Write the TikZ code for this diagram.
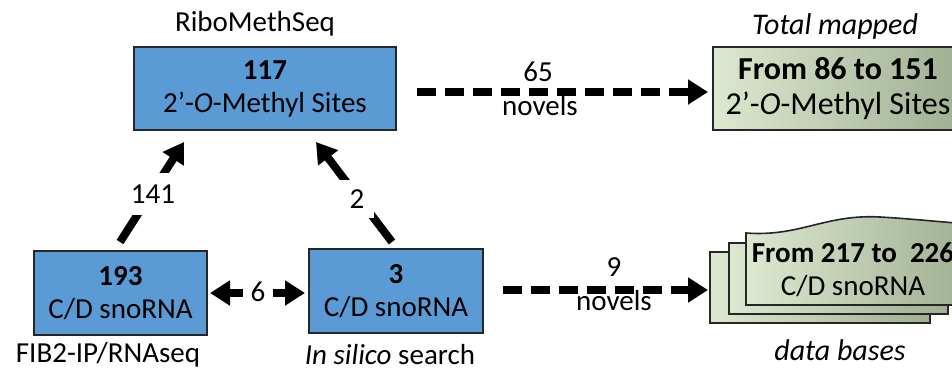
\documentclass[tikz,border=0pt]{standalone}
\usepackage{fontspec}
\setmainfont{Carlito}
\usetikzlibrary{arrows.meta}
\definecolor{myblue}{HTML}{5B9BD5}
\definecolor{gLight}{HTML}{DCE8CF}
\definecolor{gDark}{HTML}{9FAF92}
\begin{document}
\begin{tikzpicture}[x=1pt,y=-1pt,
  every node/.style={font=\fontsize{29}{33}\selectfont, inner sep=0pt},
  bluebox/.style={draw=black!85, line width=1.6pt, fill=myblue, align=center},
  greenfill/.style={draw=black!85, line width=1.6pt, left color=gLight, right color=gDark},
  darr/.style={line width=8pt, dash pattern=on 19pt off 9pt, -{Triangle[length=20pt,width=24pt]}},
  lbl/.style={fill=white, inner sep=12pt}]
\useasboundingbox (0,0) rectangle (952,370);
\clip (0,0) rectangle (952,370);

% blue boxes
\node[bluebox, minimum width=262pt, minimum height=83pt] (top) at (265,88.5) {\textbf{117}\\2’-\textit{O}-Methyl Sites};
\node[bluebox, minimum width=173pt, minimum height=84pt] (fib) at (120.5,293) {\textbf{193}\\C/D snoRNA};
\node[bluebox, minimum width=174pt, minimum height=84pt] (sil) at (396,291) {\textbf{3}\\C/D snoRNA};

% captions
\node (cRibo) at (255,24) {RiboMethSeq};
\node (cFib) at (108,355) {FIB2-IP/RNAseq};
\node (cSil) at (390,355) {\textit{In silico} search};

% right top box
\node[greenfill, minimum width=250pt, minimum height=83pt, align=center, font=\fontsize{32}{35}\selectfont] (tot) at (838,88.5) {\textbf{From 86 to 151}\\2’-\textit{O}-Methyl Sites};
\node[font=\fontsize{30}{34}\selectfont] (cTot) at (835,26) {\textit{Total mapped}};

% multi-document shape
\path[greenfill] (710,252) rectangle (930,323);
\path[greenfill] (729,243) rectangle (948,314);
\path[greenfill] (746,233) .. controls (800,237) and (825,214) .. (880,217) .. controls (915,219) and (940,222) .. (970,224) -- (970,305) -- (746,305) -- cycle;
\node[align=center] (db) at (853,270) {\textbf{From 217 to\ \ 226}\\C/D snoRNA};
\node[font=\fontsize{30}{34}\selectfont] (cDb) at (840,350) {\textit{data bases}};

% coordinates for connectors
\coordinate (a1s) at (120,242);
\coordinate (a1e) at (184,142);
\coordinate (a2s) at (392,242);
\coordinate (a2e) at (316,142);
\coordinate (a6s) at (210,293);
\coordinate (a6e) at (305,293);
\coordinate (t1s) at (417,92);
\coordinate (t1e) at (708,92);
\coordinate (t2s) at (503,290);
\coordinate (t2e) at (708,290);

\draw[darr, dash pattern=on 100pt off 0pt] (a1s) -- (a1e);
\node[lbl] (l141) at (153,194) {141};
\draw[darr, dash pattern=on 100pt off 0pt] (a2s) -- (a2e);
\node[lbl, inner sep=10pt] (l2) at (357,199) {2};
\draw[darr, {Triangle[length=20pt,width=24pt]}-{Triangle[length=20pt,width=24pt]}, dash pattern=on 100pt off 0pt] (a6s) -- (a6e);
\node[lbl, inner sep=8pt] (l6) at (258,292) {6};

\draw[darr] (t1s) -- (t1e);
\node (l65) at (538,72) {65};
\node (nov1) at (540,106) {novels};
\draw[darr] (t2s) -- (t2e);
\node (l9) at (614,267) {9};
\node (nov2) at (614,301) {novels};
\end{tikzpicture}
\end{document}
